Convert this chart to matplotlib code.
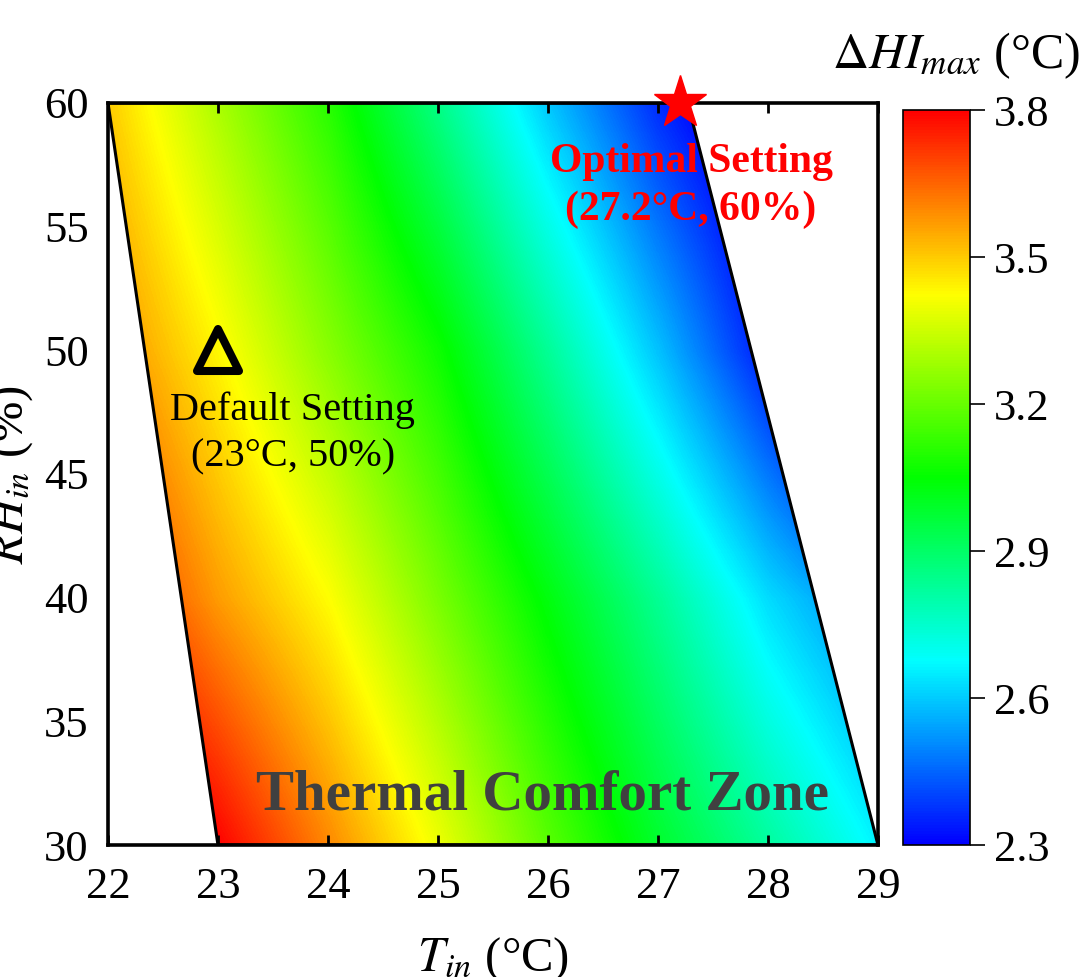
import numpy as np
import matplotlib
matplotlib.use("Agg")
import matplotlib.pyplot as plt
from matplotlib.colors import LinearSegmentedColormap
from matplotlib.patches import Polygon
from matplotlib.markers import MarkerStyle

plt.rcParams["font.family"] = ["Liberation Serif", "DejaVu Serif"]
plt.rcParams["mathtext.fontset"] = "stix"

# grid of read-off values of max heat-index rise
T_in = [22, 23, 24, 25, 26, 27, 28, 29]
RH_in = [30, 40, 50, 60]
dHI_max = [
    [3.95, 3.80, 3.60, 3.40, 3.18, 2.985, 2.82, 2.66],   # RH 30
    [3.75, 3.57, 3.425, 3.228, 3.03, 2.833, 2.625, 2.48],  # RH 40
    [3.60, 3.435, 3.251, 3.07, 2.83, 2.586, 2.33, 2.05],  # RH 50
    [3.50, 3.30, 3.108, 2.855, 2.594, 2.363, 2.20, 2.05],  # RH 60
]

# thermal comfort zone outline
zone_T = [22, 27.27, 29, 23]
zone_RH = [60, 60, 30, 30]

default_pt = (23, 50)
optimal_pt = (27.2, 60)
cbar_ticks = [2.3, 2.6, 2.9, 3.2, 3.5, 3.8]

cmap = LinearSegmentedColormap.from_list(
    "hi", ["#0000ff", "#00ffff", "#00ff00", "#ffff00", "#ff0000"])

fig = plt.figure(figsize=(10.83, 9.77), dpi=100)
ax = fig.add_axes([0.0997, 0.1351, 0.711, 0.7595])
cax = fig.add_axes([0.8338, 0.1351, 0.0619, 0.7523])

dT = (T_in[1] - T_in[0]) / 2
dR = (RH_in[1] - RH_in[0]) / 2
im = ax.imshow(np.array(dHI_max), origin="lower", aspect="auto",
               extent=[T_in[0] - dT, T_in[-1] + dT, RH_in[0] - dR, RH_in[-1] + dR],
               cmap=cmap, vmin=2.3, vmax=3.8, interpolation="bilinear",
               interpolation_stage="data")
zone = Polygon(np.column_stack([zone_T, zone_RH]), closed=True,
               facecolor="none", edgecolor="black", lw=2.2, zorder=3)
ax.add_patch(zone)
im.set_clip_path(zone)

ax.set_xlim(22, 29)
ax.set_ylim(30, 60)
ax.set_xticks(range(22, 30))
ax.set_yticks(range(30, 61, 5))
for s in ax.spines.values():
    s.set_linewidth(2.6)
ax.tick_params(axis="x", direction="in", top=True, length=7, width=2,
               labelsize=32, pad=16)
ax.tick_params(axis="y", length=0, labelsize=32, pad=14)

ax.set_xlabel(r"$T_{in}$ (°C)", fontsize=35, labelpad=20)
ax.set_ylabel(r"$RH_{in}$ (%)", fontsize=35)
ax.yaxis.set_label_coords(-0.095, 0.5)

tri = MarkerStyle("^", joinstyle="round")
ax.plot(*default_pt, marker=tri, ms=30, mfc="none", mec="black", mew=5.8,
        zorder=5, clip_on=False)
ax.plot(*optimal_pt, marker="*", ms=40, color="red", mec="red",
        zorder=6, clip_on=False)

ax.text(23.68, 46.64, "Default Setting\n(23°C, 50%)", ha="center", va="center",
        fontsize=29, linespacing=1.35, zorder=5)
ax.text(27.3, 56.64, "Optimal Setting\n(27.2°C, 60%)", ha="center", va="center",
        fontsize=30, fontweight="bold", color="red", linespacing=1.35, zorder=5)
ax.text(25.95, 32.02, "Thermal Comfort Zone", ha="center", va="center",
        fontsize=41, fontweight="bold", color="#404040", zorder=5)

cb = fig.colorbar(im, cax=cax, ticks=cbar_ticks)
cb.ax.set_yticklabels([f"{t:.1f}" for t in cbar_ticks])
cb.ax.tick_params(direction="out", length=11, width=1.2, labelsize=32, pad=6)
cb.outline.set_linewidth(1.2)
fig.text(956 / 1083, 0.930, r"$\Delta HI_{max}$ (°C)", ha="center",
         va="baseline", fontsize=36)

fig.savefig("out.png", dpi=100)
